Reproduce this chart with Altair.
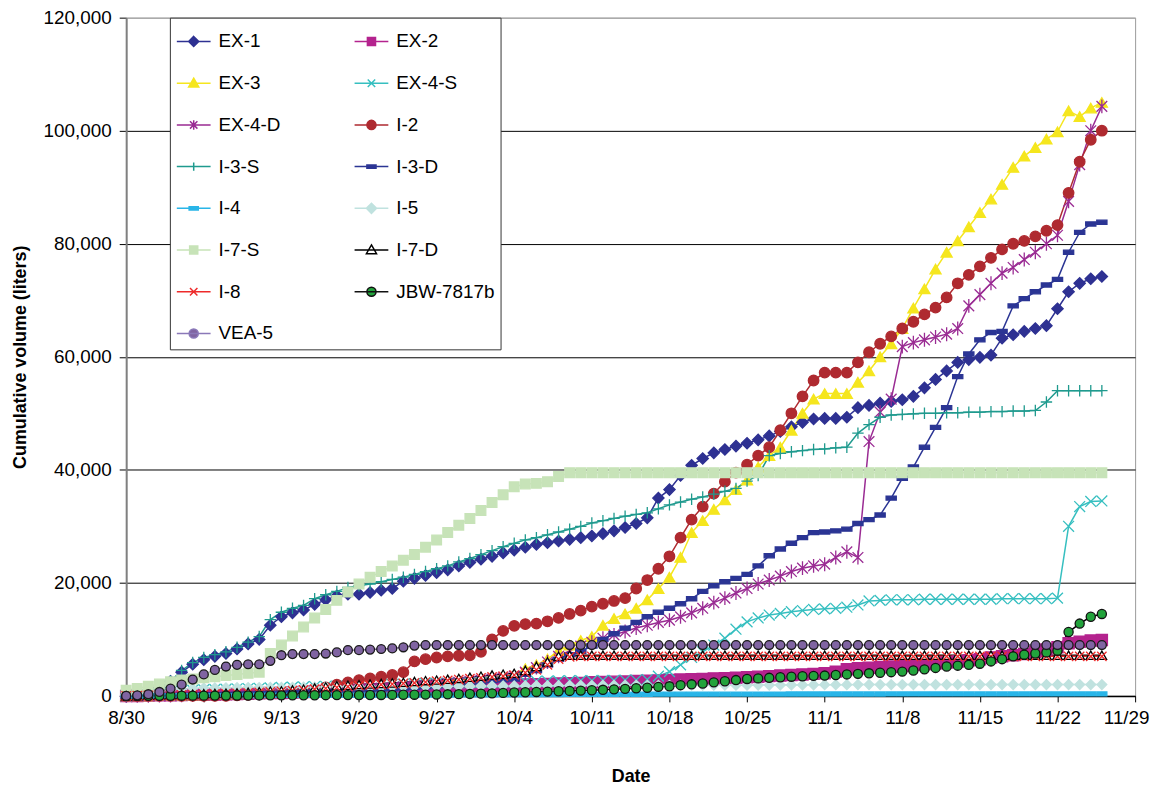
import altair as alt
import pandas as pd

# ---- dates (daily readings, 8/30 .. 11/26) ----
dates = pd.date_range("2005-08-30", periods=89, freq="D").strftime("%Y/%m/%d").tolist()
tick_dates = pd.date_range("2005-08-30", "2005-11-29", freq="7D")

# ---- cumulative volumes (liters), one row per week ----
ex_1 = [0, 300, 800, 1500, 2600, 4200, 5600,
        6400, 7000, 7500, 8300, 9200, 10000, 12500,
        14000, 14700, 15200, 16200, 17000, 17700, 18000,
        18000, 18300, 18700, 19000, 20300, 20800, 21300,
        21800, 22300, 23000, 23600, 24200, 24700, 25300,
        25800, 26300, 26800, 27100, 27400, 27700, 28000,
        28300, 28700, 29200, 29800, 30500, 31500, 35000,
        36500, 39000, 40800, 42000, 43000, 43600, 44200,
        44700, 45300, 46000, 46800, 47600, 48400, 49000,
        49100, 49100, 49300, 51000, 51400, 51800, 52100,
        52400, 53000, 54500, 56000, 57500, 59000, 59500,
        59900, 60300, 63300, 63900, 64500, 65000, 65500,
        68500, 71500, 73000, 73800, 74200]
ex_2 = [0, 0, 50, 100, 100, 150, 200,
        200, 250, 300, 350, 400, 450, 500,
        500, 600, 700, 750, 800, 900, 950,
        1000, 1050, 1100, 1150, 1200, 1300, 1350,
        1400, 1500, 1550, 1600, 1700, 1800, 1850,
        1900, 2000, 2050, 2100, 2200, 2250, 2300,
        2400, 2450, 2500, 2550, 2650, 2700, 2750,
        2800, 2900, 2950, 3000, 3100, 3150, 3200,
        3300, 3400, 3500, 3600, 3700, 3800, 3900,
        4000, 4300, 4700, 4900, 5000, 5100, 5200,
        5300, 5450, 5600, 5750, 5900, 6100, 6300,
        6500, 6800, 7000, 7200, 7400, 7800, 8200,
        8600, 9300, 9600, 9800, 9900]
ex_3 = [0, 0, 20, 50, 80, 120, 160,
        200, 250, 300, 350, 400, 480, 540,
        600, 700, 800, 900, 1000, 1150, 1300,
        1400, 1550, 1700, 1850, 2000, 2200, 2350,
        2500, 2650, 2800, 3000, 3200, 3350, 3500,
        3700, 4800, 5500, 6500, 8000, 9000, 9800,
        10500, 12500, 13700, 14500, 15500, 17000, 19000,
        21000, 24500, 28900, 31000, 33000, 34700, 36500,
        38200, 40500, 42500, 44000, 47000, 50000, 52500,
        53500, 53500, 53500, 55500, 57500, 60000, 62300,
        65000, 68600, 72000, 75500, 78500, 80500, 83000,
        85500, 87900, 90500, 93500, 95500, 97000, 98500,
        99800, 103500, 102500, 104000, 105000]
ex_4_s = [0, 100, 300, 500, 700, 900, 1000,
          1100, 1150, 1200, 1250, 1300, 1350, 1400,
          1500, 1550, 1600, 1650, 1700, 1750, 1800,
          1900, 1950, 2000, 2050, 2100, 2150, 2200,
          2200, 2250, 2300, 2350, 2400, 2450, 2500,
          2500, 2550, 2600, 2600, 2650, 2700, 2700,
          2700, 2750, 2750, 2800, 2800, 2900, 3500,
          4300, 5500, 6800, 7800, 9000, 10200, 11800,
          13100, 13800, 14300, 14600, 14900, 15100, 15300,
          15400, 15500, 15700, 16100, 16800, 16900, 17000,
          17000, 17000, 17100, 17100, 17100, 17100, 17100,
          17100, 17100, 17200, 17200, 17200, 17200, 17200,
          17300, 30000, 33500, 34400, 34500]
ex_4_d = [0, 0, 20, 50, 80, 110, 150,
          200, 250, 300, 350, 400, 480, 540,
          600, 680, 760, 850, 950, 1050, 1100,
          1200, 1300, 1400, 1500, 1600, 1750, 1850,
          2000, 2200, 2400, 2600, 2800, 3000, 3200,
          3500, 4200, 5000, 6000, 7000, 8000, 8800,
          9500, 10200, 10800, 11400, 12000, 12500, 13000,
          13400, 14000, 14700, 15500, 16500, 17300, 18200,
          19000, 19800, 20500, 21200, 22000, 22600, 23000,
          23300, 24500, 25500, 24500, 45000, 50200, 52500,
          61800, 62500, 63000, 63500, 64000, 65000, 69000,
          71000, 73000, 74800, 75800, 77200, 78500, 80000,
          81500, 87500, 94000, 100000, 104300]
i_2 = [0, 0, 0, 0, 0, 0, 0,
       0, 0, 0, 100, 200, 300, 400,
       500, 700, 900, 1200, 1500, 2000, 2400,
       2800, 3100, 3400, 3700, 4200, 6100, 6500,
       6800, 7000, 7100, 7200, 7800, 10000, 11500,
       12400, 12700, 12800, 13200, 13800, 14500, 15100,
       15800, 16300, 16800, 17300, 19000, 20500, 22500,
       24700, 28000, 31200, 33500, 35800, 37900, 39500,
       40900, 42500, 44000, 47000, 50000, 53000, 55800,
       57200, 57200, 57200, 59000, 60800, 62300, 63600,
       65000, 66200, 67500, 68700, 70500, 73000, 74500,
       76000, 77500, 79000, 80000, 80500, 81300, 82300,
       83300, 89000, 94500, 98400, 100000]
i_3_s = [0, 200, 600, 1200, 2600, 4500, 5900,
         6800, 7300, 7800, 8600, 9500, 10500, 13500,
         14800, 15500, 16000, 17200, 17900, 18500, 19200,
         19500, 19800, 20200, 20600, 21000, 21500, 22000,
         22500, 23000, 23700, 24300, 25000, 25700, 26400,
         27000, 27600, 28000, 28500, 29000, 29500, 30000,
         30600, 31000, 31400, 31800, 32100, 32400, 33100,
         33800, 34300, 34800, 35200, 35700, 36200, 36700,
         38000, 39000, 42500, 42900, 43200, 43400, 43600,
         43700, 43900, 44000, 46500, 48000, 49300, 49700,
         49800, 49900, 50000, 50000, 50100, 50100, 50200,
         50200, 50300, 50300, 50400, 50400, 50500, 52000,
         54000, 54000, 54000, 54000, 54000]
i_3_d = [0, 0, 20, 40, 60, 80, 100,
         200, 230, 260, 300, 350, 400, 450,
         500, 570, 640, 700, 780, 860, 930,
         1000, 1100, 1200, 1300, 1400, 1500, 1650,
         1800, 1950, 2100, 2300, 2500, 2700, 2850,
         3000, 3800, 4500, 5500, 6500, 7300, 7900,
         8800, 10000, 11000, 12000, 13000, 14000, 14800,
         15500, 16300, 17200, 18500, 19500, 20200, 20800,
         21500, 23000, 24800, 26000, 27000, 28000, 28900,
         29000, 29200, 29500, 30500, 31200, 32000, 35000,
         38500, 40500, 44000, 47500, 51000, 56500, 60500,
         63000, 64300, 64500, 69000, 70300, 71500, 72700,
         73700, 78500, 82000, 83500, 83800]
i_4 = [0, 0, 0, 0, 0, 50, 50,
       50, 50, 60, 60, 70, 70, 80,
       80, 90, 90, 100, 100, 110, 110,
       120, 120, 130, 130, 140, 140, 150,
       150, 160, 170, 180, 190, 200, 210,
       220, 230, 240, 250, 250, 260, 260,
       270, 270, 280, 280, 290, 290, 300,
       300, 300, 310, 310, 320, 320, 330,
       330, 330, 330, 330, 340, 340, 340,
       340, 340, 340, 340, 340, 340, 350,
       350, 350, 350, 350, 350, 350, 350,
       350, 350, 350, 350, 350, 350, 350,
       350, 350, 350, 350, 350]
i_5 = [200, 400, 600, 800, 1000, 1200, 1300,
       1400, 1420, 1440, 1460, 1480, 1490, 1500,
       1500, 1520, 1540, 1560, 1580, 1600, 1620,
       1640, 1650, 1660, 1670, 1680, 1690, 1700,
       1700, 1710, 1720, 1730, 1740, 1750, 1760,
       1770, 1780, 1790, 1800, 1810, 1820, 1830,
       1840, 1850, 1860, 1860, 1870, 1870, 1880,
       1880, 1890, 1890, 1900, 1900, 1900, 1900,
       1900, 1910, 1920, 1930, 1940, 1950, 1960,
       1970, 1980, 1990, 2000, 2000, 2000, 2000,
       2000, 2000, 2000, 2000, 2000, 2000, 2000,
       2000, 2000, 2000, 2000, 2000, 2000, 2000,
       2000, 2000, 2000, 2000, 2000]
i_7_s = [1000, 1300, 1700, 2100, 2500, 2800, 3000,
         3200, 3400, 3600, 3800, 4000, 4200, 7500,
         9000, 10600, 12200, 13800, 15300, 16900, 18400,
         19800, 21000, 22000, 23000, 24000, 25000, 26300,
         27600, 28900, 30200, 31400, 32800, 34200, 35600,
         37000, 37500, 37600, 37900, 38800, 39500, 39500,
         39500, 39500, 39500, 39500, 39500, 39500, 39500,
         39500, 39500, 39500, 39500, 39500, 39500, 39500,
         39500, 39500, 39500, 39500, 39500, 39500, 39500,
         39500, 39500, 39500, 39500, 39500, 39500, 39500,
         39500, 39500, 39500, 39500, 39500, 39500, 39500,
         39500, 39500, 39500, 39500, 39500, 39500, 39500,
         39500, 39500, 39500, 39500, 39500]
i_7_d = [0, 50, 100, 150, 200, 250, 300,
         400, 450, 500, 550, 650, 750, 850,
         900, 1050, 1200, 1400, 1600, 1800, 1900,
         2000, 2100, 2200, 2300, 2400, 2550, 2700,
         2800, 2950, 3100, 3300, 3500, 3700, 3850,
         4000, 4500, 5200, 6000, 7000, 7200, 7200,
         7200, 7200, 7200, 7200, 7200, 7200, 7200,
         7200, 7200, 7200, 7200, 7200, 7200, 7200,
         7200, 7200, 7200, 7200, 7200, 7200, 7200,
         7200, 7200, 7200, 7200, 7200, 7200, 7200,
         7200, 7200, 7200, 7200, 7200, 7200, 7200,
         7200, 7200, 7200, 7200, 7200, 7200, 7200,
         7200, 7200, 7200, 7200, 7200]
i_8 = [0, 40, 80, 120, 160, 200, 250,
       300, 350, 400, 470, 550, 630, 700,
       800, 930, 1070, 1200, 1350, 1500, 1650,
       1800, 1900, 2000, 2100, 2200, 2300, 2450,
       2600, 2750, 2900, 3050, 3200, 3350, 3500,
       3700, 4100, 4600, 5500, 6500, 6900, 7000,
       7000, 7000, 7000, 7000, 7000, 7000, 7000,
       7000, 7000, 7000, 7000, 7000, 7000, 7000,
       7000, 7000, 7000, 7000, 7000, 7000, 7000,
       7000, 7000, 7000, 7000, 7000, 7000, 7000,
       7000, 7000, 7000, 7000, 7000, 7000, 7000,
       7000, 7000, 7000, 7000, 7000, 7000, 7000,
       7000, 7000, 7000, 7000, 7000]
jbw_7817b = [0, 10, 20, 30, 35, 40, 45,
             50, 55, 60, 65, 75, 85, 95,
             100, 105, 110, 120, 130, 140, 145,
             150, 160, 170, 180, 200, 215, 230,
             250, 280, 310, 350, 400, 450, 530,
             600, 650, 700, 760, 820, 880, 940,
             1000, 1080, 1160, 1250, 1350, 1450, 1600,
             1700, 1900, 2050, 2200, 2400, 2600, 2800,
             3000, 3100, 3200, 3300, 3400, 3480, 3550,
             3600, 3700, 3800, 3900, 4000, 4100, 4200,
             4300, 4500, 4700, 4950, 5200, 5350, 5500,
             5700, 6100, 6500, 7000, 7300, 7500, 7700,
             8000, 11300, 12800, 14000, 14500]
vea_5 = [0, 100, 300, 700, 1300, 2000, 2900,
         3800, 4600, 5200, 5500, 5600, 5600, 6200,
         7200, 7400, 7400, 7400, 7500, 7700, 8100,
         8100, 8200, 8300, 8400, 8600, 8900, 9000,
         9000, 9000, 9000, 9000, 9000, 9000, 9000,
         9000, 9000, 9000, 9000, 9000, 9000, 9000,
         9000, 9000, 9000, 9000, 9000, 9000, 9000,
         9000, 9000, 9000, 9000, 9000, 9000, 9000,
         9000, 9000, 9000, 9000, 9000, 9000, 9000,
         9000, 9000, 9000, 9000, 9000, 9000, 9000,
         9000, 9000, 9000, 9000, 9000, 9000, 9000,
         9000, 9000, 9000, 9000, 9000, 9000, 9000,
         9000, 9000, 9000, 9000, 9000]

series_names = ["EX-1", "EX-2", "EX-3", "EX-4-S", "EX-4-D", "I-2", "I-3-S", "I-3-D",
                "I-4", "I-5", "I-7-S", "I-7-D", "I-8", "JBW-7817b", "VEA-5"]
series_values = [ex_1, ex_2, ex_3, ex_4_s, ex_4_d, i_2, i_3_s, i_3_d,
                 i_4, i_5, i_7_s, i_7_d, i_8, jbw_7817b, vea_5]

# ---- styles ----
line_colors = ["#2E3192", "#B4238E", "#F5E61E", "#36BFC0", "#9A2B93", "#AF2A30", "#1F9A8E", "#2B3594",
               "#29B5E8", "#C0E2DF", "#C7E3B8", "#000000", "#EE2A2A", "#000000", "#8064A2"]
marker_fill = ["#2E3192", "#B4238E", "#F5E61E", "transparent", "transparent", "#AF2A30", "transparent", "#2B3594",
               "#29B5E8", "#C0E2DF", "#C7E3B8", "#FFFFFF", "transparent", "#22A33C", "#8064A2"]
marker_stroke = ["#2E3192", "#B4238E", "#F5E61E", "#36BFC0", "#9A2B93", "#AF2A30", "#1F9A8E", "#2B3594",
                 "#29B5E8", "#C0E2DF", "#C7E3B8", "#000000", "#EE2A2A", "#111111", "#1A1A1A"]
legend_stroke = ["#2E3192", "#B4238E", "#F5E61E", "#36BFC0", "#9A2B93", "#AF2A30", "#1F9A8E", "#2B3594",
                 "#29B5E8", "#C0E2DF", "#C7E3B8", "#000000", "#EE2A2A", "#111111", "#8A78B8"]

X_PATH = "M-1,-1L1,1M-1,1L1,-1"
STAR_PATH = "M-1,-1L1,1M-1,1L1,-1M0,-1.3V1.3"
PLUS_PATH = "M-1.1,0H1.1M0,-1.1V1.1"
DASH_PATH = "M-1,-0.4H1V0.4H-1Z"
marker_shape = ["diamond", "square", "triangle-up", X_PATH, STAR_PATH, "circle", PLUS_PATH, DASH_PATH,
                DASH_PATH, "diamond", "square", "triangle-up", X_PATH, "circle", "circle"]
marker_size = [130, 81, 110, 64, 72, 115, 81, 81, 81, 130, 121, 72, 64, 105, 115]

LINE = "M-1,0H1"
L_DIAMOND = "M0,-0.3L0.3,0L0,0.3L-0.3,0Z"
L_SQUARE = "M-0.24,-0.24H0.24V0.24H-0.24Z"
L_TRI = "M0,-0.3L0.3,0.22H-0.3Z"
L_X = "M-0.22,-0.22L0.22,0.22M-0.22,0.22L0.22,-0.22"
L_STAR = L_X + "M0,-0.28V0.28"
L_CIRCLE = "M0.27,0A0.27,0.27,0,1,1,-0.27,0A0.27,0.27,0,1,1,0.27,0Z"
L_PLUS = "M-0.25,0H0.25M0,-0.25V0.25"
L_DASH = "M-0.27,-0.1H0.27V0.1H-0.27Z"
legend_shape = [LINE + s for s in [L_DIAMOND, L_SQUARE, L_TRI, L_X, L_STAR, L_CIRCLE, L_PLUS, L_DASH,
                                   L_DASH, L_DIAMOND, L_SQUARE, L_TRI, L_X, L_CIRCLE, L_CIRCLE]]

rows = []
for order, (name, vals) in enumerate(zip(series_names, series_values)):
    for d, v in zip(dates, vals):
        rows.append({"date": d, "volume": v, "series": name, "order": order})
df = pd.DataFrame(rows)

FONT = "Liberation Sans"

x_enc = alt.X("date:T",
              scale=alt.Scale(domain=[alt.DateTime(year=2005, month=8, date=30),
                                      alt.DateTime(year=2005, month=11, date=29)]),
              axis=alt.Axis(values=[alt.DateTime(year=t.year, month=t.month, date=t.day) for t in tick_dates],
                            format="%-m/%-d", title="Date", grid=False, domainColor="black",
                            domainWidth=1.5, tickColor="black", tickSize=6, labelPadding=7,
                            labelOffset={"condition": {"test": "datum.value >= datetime(2005, 10, 28)",
                                                       "value": -9}, "value": 0},
                            titlePadding=40, labelOverlap=False, labelFlush=False))
y_enc = alt.Y("volume:Q",
              scale=alt.Scale(domain=[0, 120000], nice=False),
              axis=alt.Axis(values=[0, 20000, 40000, 60000, 80000, 100000, 120000], format=",d",
                            title="Cumulative volume (liters)", grid=True,
                            gridColor={"condition": {"test": "datum.value === 120000", "value": "#A0A0A0"},
                                       "value": "black"},
                            gridWidth=1, domainColor="#808080", domainWidth=2, tickColor="black",
                            tickSize=7, labelPadding=8, titlePadding=14))

lines = alt.Chart(df).mark_line(strokeWidth=1.5).encode(
    x=x_enc, y=y_enc,
    color=alt.Color("series:N", scale=alt.Scale(domain=series_names, range=line_colors), legend=None),
    detail="series:N",
)

points = alt.Chart(df).mark_point(opacity=1, filled=False, strokeWidth=1.3).encode(
    x=x_enc, y=y_enc,
    shape=alt.Shape("series:N", scale=alt.Scale(domain=series_names, range=marker_shape), legend=None),
    fill=alt.Fill("series:N", scale=alt.Scale(domain=series_names, range=marker_fill), legend=None),
    stroke=alt.Stroke("series:N", scale=alt.Scale(domain=series_names, range=marker_stroke), legend=None),
    size=alt.Size("series:N", scale=alt.Scale(domain=series_names, range=marker_size), legend=None),
)

leg = alt.Legend(title=None, orient="none", legendX=44, legendY=0, columns=2, direction="horizontal",
                 symbolSize=1156, symbolStrokeWidth=1.5, labelFont=FONT, labelFontSize=19,
                 labelColor="black", labelOffset=7, rowPadding=14, columnPadding=71, padding=6,
                 strokeColor="#333333", fillColor="white", symbolLimit=50)

legend_layer = alt.Chart(df).transform_filter("false").mark_point(opacity=1, filled=False).encode(
    x=x_enc, y=y_enc,
    shape=alt.Shape("series:N", scale=alt.Scale(domain=series_names, range=legend_shape), legend=leg),
    fill=alt.Fill("series:N", scale=alt.Scale(domain=series_names, range=marker_fill), legend=leg),
    stroke=alt.Stroke("series:N", scale=alt.Scale(domain=series_names, range=legend_stroke), legend=leg),
)

chart = alt.layer(lines, points, legend_layer).resolve_scale(
    color="independent", fill="independent", stroke="independent", shape="independent", size="independent"
).properties(
    width=1016, height=683,
    autosize=alt.AutoSizeParams(type="none"),
    padding={"left": 119, "top": 7, "right": 17, "bottom": 88},
    background="white",
).configure_view(
    stroke="#9A9A9A", strokeWidth=1
).configure_axis(
    labelFont=FONT, labelFontSize=19, labelColor="black",
    titleFont=FONT, titleFontSize=18, titleFontWeight="bold", titleColor="black",
)

chart.save("out.html", embed_options={"renderer": "svg", "actions": False})
